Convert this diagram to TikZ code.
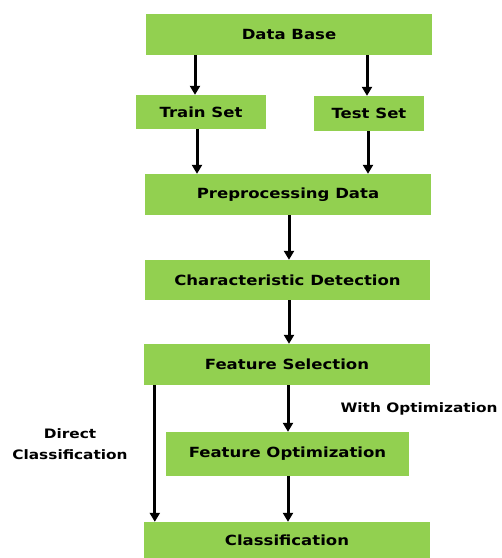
\documentclass[tikz,border=0pt]{standalone}
\usepackage{fontspec}
\setmainfont{DejaVu Sans}[FakeStretch=1.18]
\usepackage{tikz}
\usetikzlibrary{arrows.meta,positioning,calc}
\definecolor{stepgreen}{RGB}{146,208,80}

\tikzset{
  stage/.style={fill=stepgreen, minimum height=41pt, inner sep=0pt,
        font=\fontsize{14}{16}\selectfont\bfseries},
  flow/.style={-{Triangle[width=10pt,length=9pt]}, line width=3pt, black},
  side/.style={font=\fontsize{13}{21}\selectfont\bfseries, align=center}
}

\begin{document}
\begin{tikzpicture}[x=1pt,y=-1pt]
  \useasboundingbox (0,0) rectangle (502,558);
  % main chain of stages
  \node[stage, minimum width=286pt](db) at (289,34.5){Data Base};
  \node[stage, minimum width=130pt, minimum height=34pt](train) at (201,112){Train Set};
  \node[stage, minimum width=110pt, minimum height=35pt](test) at (369,113.5){Test Set};
  \node[stage, minimum width=286pt](prep) at (288,194.5){Preprocessing Data};
  \node[stage, minimum width=285pt, minimum height=40pt](char) at (287.5,280){Characteristic Detection};
  \node[stage, minimum width=286pt](fsel) at (287,364.5){Feature Selection};
  \node[stage, minimum width=243pt, minimum height=44pt](fopt) at (287.5,454){Feature Optimization};
  \node[stage, minimum width=286pt, minimum height=36pt](cls) at (287,540){Classification};

  % split into the two sets
  \draw[flow] ([xshift=-6pt]train.north |- db.south) -- ([xshift=-6pt]train.north);
  \draw[flow] ([xshift=-2pt]test.north |- db.south) -- ([xshift=-2pt]test.north);
  \draw[flow] ([xshift=-4pt]train.south) -- ([xshift=-4pt]train.south |- prep.north);
  \draw[flow] ([xshift=-1pt]test.south) -- ([xshift=-1pt]test.south |- prep.north);

  \draw[flow] ([xshift=1pt]prep.south) -- ([xshift=1pt]prep.south |- char.north);
  \draw[flow] ([xshift=1.5pt]char.south) -- ([xshift=1.5pt]char.south |- fsel.north);
  \draw[flow] ([xshift=1pt]fsel.south) -- ([xshift=1pt]fsel.south |- fopt.north);
  \draw[flow] ([xshift=1pt]fsel.south |- fopt.south) -- ([xshift=1pt]fsel.south |- cls.north);
  % direct path past the optimization step
  \draw[flow] ([xshift=11pt]fsel.south west) -- ([xshift=11pt]cls.north west);

  \node[side, anchor=west](wopt) at (337,409){With Optimization};
  \node[side](direct) at (70,444.5){Direct\\Classification};
\end{tikzpicture}
\end{document}
